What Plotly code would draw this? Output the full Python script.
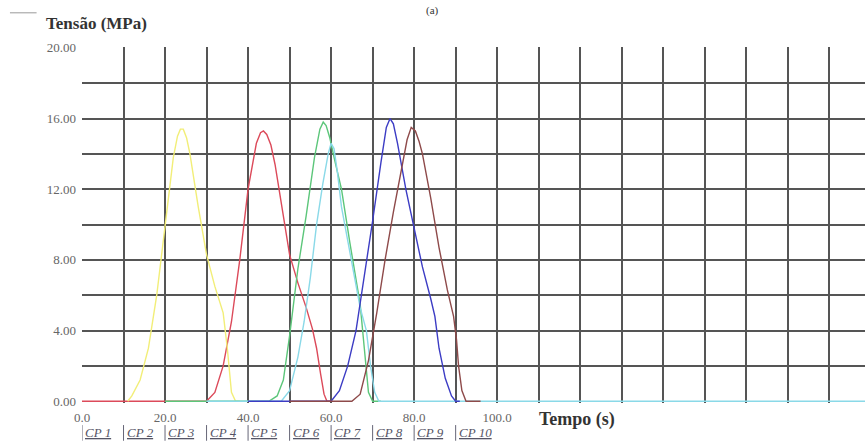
import plotly.graph_objects as go

# Ensaios de compressão: tensão (MPa) em função do tempo (s)
t_red = [0, 30, 32, 34, 36, 38, 40, 42, 43, 43.7, 44.5, 45.5, 46.5, 48, 50, 52, 54, 55.5, 56.5, 57.5, 58.3, 59, 60]
s_red = [0, 0, 0.5, 2, 4.5, 8, 12, 14.6, 15.2, 15.3, 15.1, 14.5, 13.4, 11.2, 8.3, 6.7, 5.3, 4.1, 3.0, 1.5, 0.4, 0, 0]

t_yellow = [11, 12, 14, 16, 18, 20, 22, 23, 23.7, 24.4, 25.2, 26, 28, 30, 32, 34, 35, 36, 37, 38]
s_yellow = [0, 0.3, 1.2, 3.0, 6.0, 10.0, 13.8, 15.0, 15.4, 15.4, 14.9, 14.0, 11.0, 8.3, 6.5, 5.0, 3.0, 0.5, 0, 0]

t_green = [20, 45, 47, 48.5, 50, 52, 54, 56, 57.3, 58.1, 58.8, 59.7, 61, 62.5, 64.5, 66, 67, 68, 69, 70, 72]
s_green = [0, 0, 0.3, 1.2, 3.7, 7.5, 10.5, 13.8, 15.4, 15.8, 15.6, 14.9, 13.5, 12.0, 9.0, 7.0, 5.5, 3.0, 0.5, 0, 0]

t_cyan = [30, 48, 50, 52, 53.5, 55, 56.5, 58, 59.3, 60, 60.7, 61.5, 62.5, 64, 65.5, 67, 68.5, 69.5, 70.5, 71.5, 190]
s_cyan = [0, 0, 0.6, 2.5, 4.5, 7.0, 10.0, 12.3, 14.0, 14.6, 14.3, 13.0, 11.0, 9.0, 7.2, 5.3, 4.0, 2.0, 0.5, 0, 0]

t_blue = [40, 60, 62, 64, 66, 68, 70, 72, 73.3, 74.2, 75, 76, 77, 78, 80, 82, 84, 85, 86, 87.5, 89, 90, 91]
s_blue = [0, 0, 0.6, 2.0, 4.0, 7.0, 10.2, 13.5, 15.5, 16.0, 15.7, 14.6, 13.3, 12.0, 9.8, 7.6, 5.8, 4.8, 3.0, 1.3, 0.3, 0, 0]

t_brown = [50, 65, 67, 69, 71, 73, 75, 77, 78.3, 79.3, 80.3, 81.2, 82, 84, 86, 88, 89.5, 90.2, 90.7, 91.5, 92.5, 96]
s_brown = [0, 0, 0.4, 2.3, 5.0, 8.0, 10.7, 13.3, 14.8, 15.5, 15.3, 14.7, 14.0, 11.5, 8.7, 6.3, 4.8, 3.5, 2.0, 0.6, 0, 0]

specimens = ["CP 1", "CP 2", "CP 3", "CP 4", "CP 5", "CP 6", "CP 7", "CP 8", "CP 9", "CP 10"]

x_ticks = [0, 20, 40, 60, 80, 100]
x_ticktext = ["0.0", "20.0", "40.0", "60.0", "80.0", "100.0"]
x_grid = [0, 10, 20, 30, 40, 50, 60, 70, 80, 90, 100, 110, 120, 130, 140, 150, 160, 170, 180]
y_ticks = [0, 4, 8, 12, 16, 20]
y_ticktext = ["0.00", "4.00", "8.00", "12.00", "16.00", "20.00"]
y_grid = [2, 4, 6, 8, 10, 12, 14, 16, 18, 20]

curves = [
    (t_red, s_red, "#dc4a5a"),
    (t_yellow, s_yellow, "#f2ee78"),
    (t_green, s_green, "#5cc67a"),
    (t_cyan, s_cyan, "#8ad9e8"),
    (t_blue, s_blue, "#3c3cc4"),
    (t_brown, s_brown, "#8e4a4a"),
]

SERIF = "Times New Roman, Liberation Serif, serif"
GRID = "#555555"

fig = go.Figure()
for t, s, color in curves:
    fig.add_trace(go.Scatter(x=t, y=s, mode="lines", showlegend=False,
                             line=dict(color=color, width=1.4),
                             hoverinfo="skip"))

fig.update_layout(
    width=865, height=444,
    margin=dict(l=82, r=0, t=47, b=41),
    paper_bgcolor="white", plot_bgcolor="white",
    font=dict(family=SERIF, color="#555555", size=11),
    xaxis=dict(range=[0, 188.6], tickvals=x_ticks, ticktext=x_ticktext,
               showgrid=False, zeroline=False, showline=False, ticks="",
               ticklabelstandoff=5,
               minor=dict(tickvals=x_grid, showgrid=True, gridcolor=GRID, gridwidth=1.5, ticks=""),
               tickfont=dict(family=SERIF, size=13, color="#666666")),
    yaxis=dict(range=[-0.1, 20.05], tickvals=y_ticks, ticktext=y_ticktext,
               showgrid=False, zeroline=False, showline=False, ticks="",
               ticklabelstandoff=5,
               minor=dict(tickvals=y_grid, showgrid=True, gridcolor=GRID, gridwidth=1.5, ticks=""),
               tickfont=dict(family=SERIF, size=13, color="#666666")),
)

# axis titles
fig.add_annotation(text="<b>Tensão (MPa)</b>", xref="paper", yref="paper",
                   x=-0.049, y=1.067, xanchor="left", yanchor="middle", showarrow=False,
                   font=dict(family=SERIF, size=17, color="#333333"))
fig.add_annotation(text="<b>Tempo (s)</b>", xref="x", yref="paper",
                   x=109.6, y=-0.045, xanchor="left", yanchor="middle", showarrow=False,
                   font=dict(family=SERIF, size=18, color="#333333"))
fig.add_annotation(text="(a)", xref="paper", yref="paper",
                   x=0.448, y=1.127, xanchor="center", yanchor="top", showarrow=False,
                   font=dict(family=SERIF, size=11, color="#333333"))

# small rule at the top-left corner
fig.add_shape(type="line", xref="paper", yref="paper", x0=-0.092, x1=-0.058,
              y0=1.096, y1=1.096, line=dict(color="#999999", width=1))

# specimen labels below the axis
for i, name in enumerate(specimens):
    x0 = i * 10
    fig.add_annotation(text="<i><u>" + name + "</u></i>", xref="x", yref="paper",
                       x=x0 + 0.3, y=-0.083, xanchor="left", yanchor="middle",
                       showarrow=False,
                       font=dict(family=SERIF, size=13, color="#555566"))
    fig.add_shape(type="line", xref="x", yref="paper", x0=x0, x1=x0,
                  y0=-0.062, y1=-0.106, line=dict(color="#666677", width=1))

fig.write_html("out.html")
